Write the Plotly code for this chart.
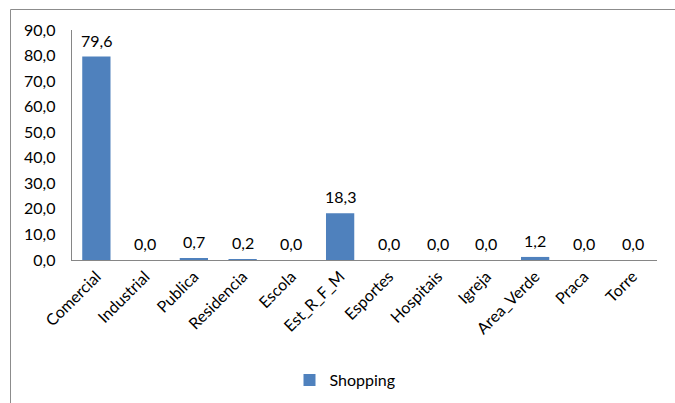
import plotly.graph_objects as go

categories = ["Comercial", "Industrial", "Publica", "Residencia", "Escola", "Est_R_F_M",
              "Esportes", "Hospitais", "Igreja", "Area_Verde", "Praca", "Torre"]
values = [79.6, 0.0, 0.7, 0.2, 0.0, 18.3, 0.0, 0.0, 0.0, 1.2, 0.0, 0.0]
series_name = "Shopping"

W, H = 675, 403
L, R, T, B = 72, 18, 30, 143
pw, ph = W - L - R, H - T - B

def px_x(x):
    return (x - L) / pw

def px_y(y):
    return (H - B - y) / ph

font = "Lato, 'Open Sans', sans-serif"

fig = go.Figure()
fig.add_trace(go.Bar(
    x=categories, y=values, name=series_name,
    marker=dict(color="#4f81bd", line=dict(width=0)),
    width=0.58,
    showlegend=True,
))

for c, v in zip(categories, values):
    fig.add_annotation(x=c, y=v, text=f"{v:.1f}".replace(".", ","),
                       showarrow=False, yanchor="bottom", yshift=5,
                       font=dict(family=font, size=16, color="#000000"))

fig.update_layout(
    width=W, height=H,
    margin=dict(l=L, r=R, t=T, b=B, autoexpand=False),
    paper_bgcolor="white", plot_bgcolor="white",
    separators=",.",
    font=dict(family=font, size=16, color="#000000"),
    xaxis=dict(showline=True, linecolor="#868686", linewidth=1, ticks="",
               tickangle=-45, tickfont=dict(size=16), showgrid=False),
    yaxis=dict(range=[0, 90], dtick=10, tickformat=".1f", showline=True,
               linecolor="#868686", linewidth=1, ticks="",
               ticksuffix="\u00a0\u00a0\u00a0", showgrid=False,
               zeroline=False, tickfont=dict(size=16)),
    legend=dict(orientation="h", x=px_x(345), xanchor="center",
                y=px_y(380), yanchor="middle", font=dict(size=16),
                itemwidth=30),
    shapes=[dict(type="rect", xref="paper", yref="paper",
                 x0=px_x(10.5), x1=px_x(W + 20), y0=px_y(H + 20), y1=px_y(9.5),
                 line=dict(color="#8c8c8c", width=1), fillcolor="rgba(0,0,0,0)")],
)

fig.write_html("out.html")
